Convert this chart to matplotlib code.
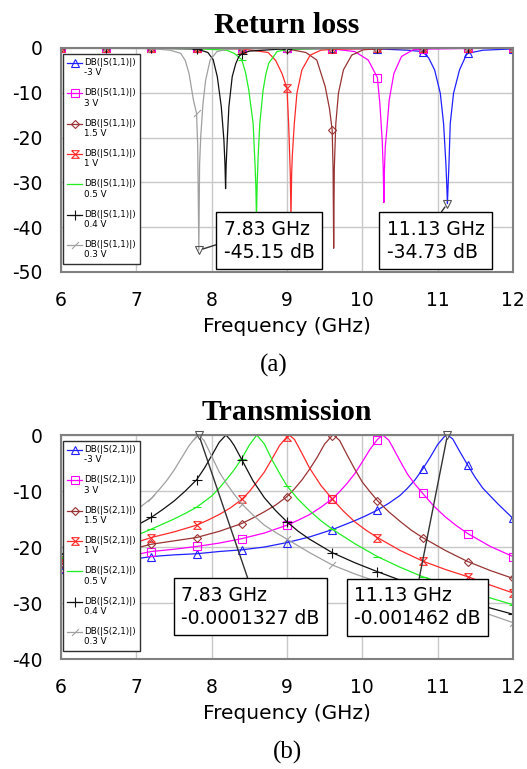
import numpy as np
import matplotlib
matplotlib.use("Agg")
import matplotlib.pyplot as plt
from matplotlib.legend_handler import HandlerLine2D
from matplotlib.transforms import ScaledTranslation

plt.rcParams['font.family'] = ['DejaVu Sans']
plt.rcParams['axes.unicode_minus'] = False

voltages = ['-3 V', '3 V', '1.5 V', '1 V', '0.5 V', '0.4 V', '0.3 V']
marker_freqs = [6.0, 6.6, 7.2, 7.8, 8.4, 9.0, 9.6, 10.2, 10.8, 11.4, 12.0]

# readout markers
m_freq = [7.83, 11.13]
m_s11 = [-45.15, -34.73]
m_s21 = [-0.0001327, -0.001462]

# ---- S(1,1) curves (GHz, dB) ----
s11_f_m3 = [6.0, 6.6, 7.2, 7.8, 8.4, 9.0, 9.6, 10.2, 10.6, 10.8, 10.88, 10.96, 11.035, 11.079, 11.11,
            11.122, 11.13, 11.138, 11.15, 11.167, 11.211, 11.29, 11.379, 11.4, 11.6, 12.0]
s11_db_m3 = [-0.03, -0.03, -0.04, -0.05, -0.06, -0.08, -0.1, -0.2, -0.5, -0.8, -2.2, -4.9, -10.1, -16.9, -26.0,
             -31.0, -34.73, -31.0, -26.0, -16.9, -10.1, -4.9, -1.6, -1.2, -0.5, -0.2]
s11_f_3 = [6.0, 6.6, 7.2, 7.8, 8.4, 9.0, 9.6, 9.9, 10.079, 10.2, 10.233, 10.264, 10.278, 10.286,
           10.294, 10.305, 10.321, 10.357, 10.419, 10.52, 10.674, 10.8, 11.4, 12.0]
s11_db_3 = [-0.03, -0.03, -0.04, -0.05, -0.07, -0.1, -0.2, -0.8, -2.7, -6.6, -12.4, -20.6, -27.0, -34.5,
            -27.0, -22.0, -19.1, -11.6, -5.7, -1.9, -0.4, -0.25, -0.1, -0.08]
s11_f_15 = [6.0, 6.6, 7.2, 7.8, 8.4, 9.0, 9.25, 9.396, 9.507, 9.564, 9.6, 9.612, 9.62, 9.628, 9.648,
            9.683, 9.749, 9.859, 10.013, 10.2, 10.8, 11.4, 12.0]
s11_db_15 = [-0.03, -0.04, -0.05, -0.06, -0.1, -0.2, -1.0, -2.7, -8.6, -13.5, -18.3, -27.0, -44.7, -27.0, -16.9,
             -10.1, -4.9, -1.6, -0.4, -0.2, -0.1, -0.07, -0.06]
s11_f_1 = [6.0, 6.6, 7.2, 7.8, 8.4, 8.75, 8.85, 8.934, 9.0, 9.022, 9.044, 9.053, 9.062, 9.07, 9.097,
           9.132, 9.198, 9.308, 9.45, 9.6, 10.2, 10.8, 11.4, 12.0]
s11_db_1 = [-0.04, -0.05, -0.06, -0.1, -0.2, -1.0, -2.8, -5.7, -9.0, -16.9, -28.0, -38.0, -28.0, -24.3, -16.9,
            -10.1, -4.9, -1.6, -0.5, -0.3, -0.1, -0.07, -0.05, -0.05]
s11_f_05 = [6.0, 6.6, 7.2, 7.8, 8.2, 8.3, 8.4, 8.45, 8.493, 8.551, 8.577, 8.587, 8.595, 8.603, 8.617,
            8.639, 8.683, 8.72, 8.758, 8.868, 9.0, 9.6, 10.2, 10.8, 11.4, 12.0]
s11_db_05 = [-0.04, -0.05, -0.07, -0.15, -0.5, -1.2, -2.6, -5.5, -9.4, -16.9, -26.5, -31.0, -38.0, -31.0, -24.3,
             -16.9, -9.4, -5.8, -3.4, -0.8, -0.3, -0.1, -0.07, -0.05, -0.04, -0.04]
s11_f_04 = [6.0, 6.6, 7.2, 7.8, 7.95, 8.02, 8.075, 8.128, 8.163, 8.177, 8.185, 8.193, 8.207, 8.229,
            8.273, 8.32, 8.361, 8.4, 8.5, 9.0, 9.6, 10.2, 10.8, 11.4, 12.0]
s11_db_04 = [-0.04, -0.05, -0.08, -0.2, -1.0, -2.6, -6.4, -13.1, -20.6, -26.0, -31.4, -26.0, -20.6, -13.1,
             -6.4, -3.5, -1.9, -1.3, -0.7, -0.15, -0.08, -0.06, -0.05, -0.04, -0.04]
s11_f_03 = [6.0, 6.6, 7.2, 7.45, 7.59, 7.65, 7.70, 7.758, 7.8, 7.815, 7.83, 7.84, 7.855, 7.885, 7.92,
            7.98, 8.07, 8.2, 8.4, 9.0, 9.6, 10.2, 10.8, 11.4, 12.0]
s11_db_03 = [-0.05, -0.08, -0.15, -0.5, -1.2, -2.8, -5.7, -11.6, -14.6, -22.0, -45.15, -26.0, -19.8, -12.4, -7.2,
             -2.7, -0.8, -0.3, -0.15, -0.08, -0.06, -0.05, -0.05, -0.04, -0.04]

# ---- S(2,1) curves (GHz, dB) ----
s21_f_m3 = [6.0, 6.3, 6.6, 6.9, 7.2, 7.5, 7.8, 8.1, 8.4, 8.7, 9.0, 9.3, 9.6, 9.9, 10.05, 10.2, 10.35, 10.5,
            10.6, 10.7, 10.8, 10.9, 11.0, 11.1, 11.13, 11.2, 11.3, 11.4, 11.5, 11.6, 11.7, 11.8, 11.9, 12.0]
s21_db_m3 = [-24.0, -23.4, -22.9, -22.3, -21.7, -21.4, -21.2, -20.8, -20.5, -20.0, -19.2, -18.2, -16.9, -15.3,
             -14.4, -13.4, -12.2, -10.8, -9.5, -8.0, -6.1, -4.0, -1.7, -0.1, 0.0, -0.7, -3.1, -5.4, -7.6,
             -9.5, -10.9, -12.3, -13.6, -14.9]
s21_f_3 = [6.0, 6.3, 6.6, 6.9, 7.2, 7.5, 7.8, 8.1, 8.4, 8.7, 9.0, 9.15, 9.3, 9.45, 9.6, 9.7, 9.8, 9.9,
           10.0, 10.1, 10.2, 10.27, 10.35, 10.4, 10.5, 10.6, 10.7, 10.8, 10.95, 11.1, 11.25, 11.4, 11.7, 12.0]
s21_db_3 = [-23.7, -23.0, -22.3, -21.6, -20.8, -20.4, -19.9, -19.3, -18.5, -17.5, -16.1, -15.2, -14.2, -12.9,
            -11.4, -10.1, -8.6, -6.9, -4.8, -2.6, -0.8, 0.0, -0.9, -2.1, -4.6, -7.0, -8.8, -10.4, -12.7,
            -14.6, -16.2, -17.6, -19.9, -21.7]
s21_f_15 = [6.0, 6.3, 6.6, 6.9, 7.2, 7.5, 7.8, 8.1, 8.4, 8.55, 8.7, 8.85, 9.0, 9.1, 9.2, 9.3, 9.4, 9.5,
            9.6, 9.62, 9.7, 9.8, 9.9, 10.0, 10.1, 10.2, 10.35, 10.5, 10.65, 10.8, 11.1, 11.4, 11.7, 12.0]
s21_db_15 = [-23.0, -22.3, -21.4, -20.5, -19.5, -18.9, -18.3, -17.2, -15.8, -14.8, -13.7, -12.5, -11.0, -9.6,
             -8.0, -6.1, -4.0, -1.6, -0.1, 0.0, -1.0, -3.6, -6.1, -8.4, -10.1, -11.7, -13.7, -15.4, -17.0,
             -18.3, -20.6, -22.6, -24.2, -25.6]
s21_f_1 = [6.0, 6.3, 6.6, 6.9, 7.2, 7.5, 7.8, 7.95, 8.1, 8.25, 8.4, 8.5, 8.6, 8.7, 8.8, 8.9, 9.0, 9.03,
           9.1, 9.2, 9.3, 9.45, 9.6, 9.75, 9.9, 10.05, 10.2, 10.5, 10.8, 11.1, 11.4, 11.7, 12.0]
s21_db_1 = [-22.4, -21.5, -20.7, -19.6, -18.3, -17.3, -16.1, -15.2, -14.2, -13.0, -11.5, -10.1, -8.4, -6.6,
            -4.3, -1.9, -0.3, 0.0, -0.8, -3.3, -5.9, -9.0, -11.4, -13.6, -15.5, -17.0, -18.3, -20.6,
            -22.5, -24.0, -25.3, -26.8, -28.2]
s21_f_05 = [6.0, 6.3, 6.6, 6.9, 7.2, 7.5, 7.65, 7.8, 7.9, 8.0, 8.1, 8.2, 8.3, 8.4, 8.5, 8.6, 8.7, 8.8,
            8.9, 9.0, 9.15, 9.3, 9.45, 9.6, 9.9, 10.2, 10.5, 10.8, 11.1, 11.4, 11.7, 12.0]
s21_db_05 = [-21.9, -20.9, -19.9, -18.5, -16.8, -15.0, -14.0, -12.9, -11.9, -10.9, -9.5, -7.9, -6.2, -4.2,
             -1.8, 0.0, -1.6, -4.4, -6.8, -9.1, -11.5, -13.5, -15.3, -16.8, -19.4, -21.7, -23.6, -25.3,
             -26.6, -27.9, -29.1, -30.3]
s21_f_04 = [6.0, 6.3, 6.6, 6.9, 7.2, 7.35, 7.5, 7.65, 7.8, 7.9, 8.0, 8.1, 8.19, 8.25, 8.3, 8.4, 8.55,
            8.7, 8.85, 9.0, 9.15, 9.3, 9.6, 9.9, 10.2, 10.5, 10.8, 11.1, 11.4, 11.7, 12.0]
s21_db_04 = [-21.3, -20.0, -18.7, -16.9, -14.7, -13.3, -11.8, -10.0, -8.0, -6.0, -3.7, -1.3, 0.0, -0.9,
             -1.9, -4.4, -8.2, -11.2, -13.5, -15.5, -17.2, -18.6, -21.0, -22.8, -24.4, -25.9, -27.2,
             -28.5, -29.7, -30.9, -32.0]
s21_f_03 = [6.0, 6.3, 6.6, 6.9, 7.05, 7.2, 7.3, 7.4, 7.5, 7.6, 7.7, 7.8, 7.83, 7.9, 7.98, 8.04, 8.1,
            8.2, 8.3, 8.4, 8.55, 8.7, 8.85, 9.0, 9.3, 9.6, 9.9, 10.2, 10.5, 10.8, 11.1, 11.4, 11.7, 12.0]
s21_db_03 = [-20.2, -18.6, -16.7, -14.3, -12.9, -11.3, -9.8, -8.2, -6.3, -4.1, -1.9, -0.2, 0.0, -1.0,
             -3.2, -4.9, -6.6, -8.7, -10.6, -12.3, -14.3, -16.1, -17.4, -18.6, -21.0, -23.2, -24.8,
             -26.2, -27.4, -28.6, -29.7, -30.8, -32.1, -33.5]

s11_f = [s11_f_m3, s11_f_3, s11_f_15, s11_f_1, s11_f_05, s11_f_04, s11_f_03]
s11_db = [s11_db_m3, s11_db_3, s11_db_15, s11_db_1, s11_db_05, s11_db_04, s11_db_03]
s21_f = [s21_f_m3, s21_f_3, s21_f_15, s21_f_1, s21_f_05, s21_f_04, s21_f_03]
s21_db = [s21_db_m3, s21_db_3, s21_db_15, s21_db_1, s21_db_05, s21_db_04, s21_db_03]

colors = ['#2020ff', '#ff00ff', '#993333', '#ff2a2a', '#22ee22', '#111111', '#a0a0a0']
hourglass = [(-1, 1), (1, 1), (-1, -1), (1, -1), (-1, 1)]
slash = [(-1, -1), (1, 1)]
markers = ['^', 's', 'D', hourglass, '_', '+', slash]
msizes = [6, 5.5, 4.5, 5.5, 6, 6.5, 5]


class FirstLineHandler(HandlerLine2D):
    # put the legend symbol next to the first of the two label lines
    def create_artists(self, legend, orig_handle, xdescent, ydescent, width, height, fontsize, trans):
        arts = super().create_artists(legend, orig_handle, xdescent, ydescent, width, height,
                                      fontsize, trans)
        shift = ScaledTranslation(0, 0.6 * fontsize / 72, legend.figure.dpi_scale_trans)
        for a in arts:
            a.set_transform(a.get_transform() + shift)
        return arts


def draw_panel(ax, freqs, dbs, port, ymin, title):
    lines = []
    for f, db, c, m, ms, v in zip(freqs, dbs, colors, markers, msizes, voltages):
        every = [i for i, x in enumerate(f) if np.isclose(x, marker_freqs).any()]
        ln, = ax.plot(f, db, color=c, lw=0.9, marker=m, markevery=every, ms=ms,
                      mfc='none', mec=c, mew=0.8, label='DB(|S(%s)|)\n%s' % (port, v))
        lines.append(ln)
    ax.set_xlim(6, 12)
    ax.set_ylim(ymin, 0)
    ax.set_xticks(range(6, 13))
    ax.set_yticks(range(0, ymin - 1, -10))
    ax.grid(color='#c8c8c8', lw=1)
    ax.set_axisbelow(True)
    ax.tick_params(length=0, labelsize=13.5)
    ax.tick_params(axis='x', pad=13.5)
    ax.tick_params(axis='y', pad=13)
    for s in ax.spines.values():
        s.set_color('#808080')
        s.set_linewidth(1.5)
    ax.set_xlabel('Frequency (GHz)', fontsize=14.5, labelpad=5.5)
    ax.set_title(title, family='Liberation Serif', fontweight='bold', fontsize=21.5, pad=11)
    leg = ax.legend(handles=lines, loc='upper left', bbox_to_anchor=(0.004, 0.975),
                    borderaxespad=0, fontsize=6.3, handlelength=1.7, handletextpad=0.2,
                    labelspacing=1.25, borderpad=0.5, fancybox=False, framealpha=1,
                    edgecolor='#303030', handler_map={matplotlib.lines.Line2D: FirstLineHandler()})
    leg.get_frame().set_linewidth(1)
    leg.set_zorder(7)


def readout(ax, f, db, text_pos, relpos):
    ax.plot(f, db, marker='v', ms=6, mfc='none', mec='#555555', mew=0.8, clip_on=False, zorder=6)
    ax.annotate('%.2f GHz\n%s dB' % (f, db), xy=(f, db), xytext=text_pos, textcoords='axes fraction',
                ha='center', va='center', multialignment='left', fontsize=13.5, linespacing=1.25,
                bbox=dict(boxstyle='square,pad=0.4', fc='white', ec='black', lw=1),
                arrowprops=dict(arrowstyle='-', color='#333333', lw=1, relpos=relpos,
                                shrinkA=0, shrinkB=3),
                zorder=6)


fig = plt.figure(figsize=(5.27, 7.69), dpi=100)
ax1 = fig.add_axes([0.1157, 0.6463, 0.8577, 0.2913])
ax2 = fig.add_axes([0.1157, 0.1430, 0.8577, 0.2913])

draw_panel(ax1, s11_f, s11_db, '1,1', -50, 'Return loss')
draw_panel(ax2, s21_f, s21_db, '2,1', -40, 'Transmission')

readout(ax1, m_freq[0], m_s11[0], (0.461, 0.140), (0, 0.46))
readout(ax1, m_freq[1], m_s11[1], (0.829, 0.140), (0.5, 1))
readout(ax2, m_freq[0], m_s21[0], (0.419, 0.233), (0.5, 1))
readout(ax2, m_freq[1], m_s21[1], (0.789, 0.231), (0.5, 1))

fig.text(274 / 527, 1 - 365 / 769, '(a)', ha='center', va='center', family='Liberation Serif', fontsize=18)
fig.text(287 / 527, 1 - 752 / 769, '(b)', ha='center', va='center', family='Liberation Serif', fontsize=18)

fig.savefig('out.png', dpi=100)
